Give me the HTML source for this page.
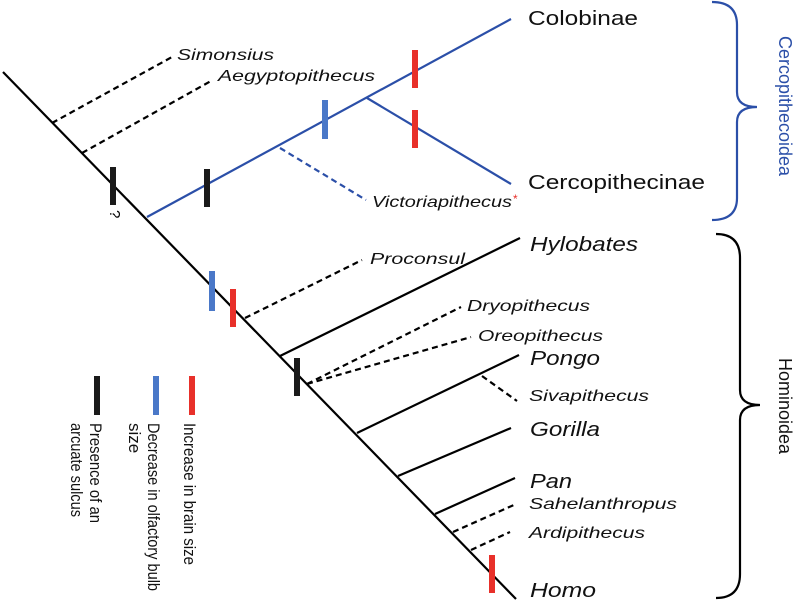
<!DOCTYPE html>
<html><head><meta charset="utf-8"><style>
html,body{margin:0;padding:0;background:#fff;}
svg{display:block;}
text{font-family:"Liberation Sans",sans-serif;}
.it{font-style:italic;}
</style></head><body>
<svg width="800" height="600" viewBox="0 0 800 600">
<g fill="none" stroke-width="2.2">
<line x1="3" y1="72" x2="516" y2="599" stroke="#000"/>
<line x1="52" y1="123" x2="172" y2="57" stroke="#000" stroke-dasharray="6,4"/>
<line x1="82" y1="153" x2="211" y2="81" stroke="#000" stroke-dasharray="6,4"/>
<line x1="147" y1="217" x2="511" y2="19" stroke="#2b4fa8"/>
<line x1="367" y1="98" x2="511" y2="184" stroke="#2b4fa8"/>
<line x1="280" y1="148" x2="366" y2="200" stroke="#2b4fa8" stroke-dasharray="6,4"/>
<line x1="245" y1="318" x2="362" y2="260" stroke="#000" stroke-dasharray="6,4"/>
<line x1="280" y1="356" x2="520" y2="238" stroke="#000"/>
<line x1="307" y1="384" x2="461" y2="307" stroke="#000" stroke-dasharray="6,4"/>
<line x1="307" y1="384" x2="471" y2="337" stroke="#000" stroke-dasharray="6,4"/>
<line x1="357" y1="433" x2="519" y2="355" stroke="#000"/>
<line x1="482" y1="376" x2="517" y2="401" stroke="#000" stroke-dasharray="6,4"/>
<line x1="398" y1="476" x2="511" y2="428" stroke="#000"/>
<line x1="435" y1="514" x2="515" y2="478" stroke="#000"/>
<line x1="453" y1="532" x2="516" y2="504" stroke="#000" stroke-dasharray="6,4"/>
<line x1="471" y1="550" x2="510" y2="532" stroke="#000" stroke-dasharray="6,4"/>
</g>
<g stroke-width="6">
<line x1="113" y1="167" x2="113" y2="205" stroke="#1a1a1a"/>
<line x1="207" y1="169" x2="207" y2="207" stroke="#1a1a1a"/>
<line x1="297" y1="358" x2="297" y2="396" stroke="#1a1a1a"/>
<line x1="325" y1="100" x2="325" y2="139" stroke="#4a78c8"/>
<line x1="212" y1="271" x2="212" y2="311" stroke="#4a78c8"/>
<line x1="415" y1="50" x2="415" y2="88" stroke="#e8302a"/>
<line x1="415" y1="110" x2="415" y2="148" stroke="#e8302a"/>
<line x1="233" y1="289" x2="233" y2="327" stroke="#e8302a"/>
<line x1="492" y1="555" x2="492" y2="593" stroke="#e8302a"/>
<line x1="97" y1="376" x2="97" y2="415" stroke="#1a1a1a"/>
<line x1="156" y1="376" x2="156" y2="415" stroke="#4a78c8"/>
<line x1="192" y1="376" x2="192" y2="415" stroke="#e8302a"/>
</g>
<text x="0" y="0" font-size="15" transform="translate(110,210) rotate(90)">?</text>
<g font-size="16" fill="#111">
<text class="it" x="177" y="60" textLength="97" lengthAdjust="spacingAndGlyphs">Simonsius</text>
<text class="it" x="218" y="81" textLength="157" lengthAdjust="spacingAndGlyphs">Aegyptopithecus</text>
<text class="it" x="372" y="207" textLength="140" lengthAdjust="spacingAndGlyphs">Victoriapithecus</text>
<text x="513" y="203" font-size="12" fill="#e8302a">*</text>
<text class="it" x="370" y="264" textLength="95" lengthAdjust="spacingAndGlyphs">Proconsul</text>
<text class="it" x="467" y="311" textLength="123" lengthAdjust="spacingAndGlyphs">Dryopithecus</text>
<text class="it" x="478" y="341" textLength="125" lengthAdjust="spacingAndGlyphs">Oreopithecus</text>
<text class="it" x="529" y="401" textLength="120" lengthAdjust="spacingAndGlyphs">Sivapithecus</text>
<text class="it" x="529" y="509" textLength="148" lengthAdjust="spacingAndGlyphs">Sahelanthropus</text>
<text class="it" x="529" y="538" textLength="116" lengthAdjust="spacingAndGlyphs">Ardipithecus</text>
</g>
<g font-size="20" fill="#111">
<text x="528" y="25" textLength="110" lengthAdjust="spacingAndGlyphs">Colobinae</text>
<text x="528" y="189" textLength="177" lengthAdjust="spacingAndGlyphs">Cercopithecinae</text>
<text class="it" x="530" y="251" textLength="108" lengthAdjust="spacingAndGlyphs">Hylobates</text>
<text class="it" x="530" y="365" textLength="70" lengthAdjust="spacingAndGlyphs">Pongo</text>
<text class="it" x="530" y="436" textLength="70" lengthAdjust="spacingAndGlyphs">Gorilla</text>
<text class="it" x="530" y="488" textLength="42" lengthAdjust="spacingAndGlyphs">Pan</text>
<text class="it" x="530" y="597" textLength="66" lengthAdjust="spacingAndGlyphs">Homo</text>
</g>
<path d="M712,2 Q737,2 737,25 L737,92 Q737,107 757,107 Q737,107 737,122 L737,198 Q737,220 712,220" fill="none" stroke="#2b4fa8" stroke-width="2.2"/>
<path d="M716,234 Q740,234 740,258 L740,390 Q740,405 760,405 Q740,405 740,420 L740,574 Q740,598 716,598" fill="none" stroke="#000" stroke-width="2.2"/>
<text font-size="18" fill="#2b4fa8" text-anchor="middle" transform="translate(779,106) rotate(90)">Cercopithecoidea</text>
<text font-size="18" fill="#111" text-anchor="middle" transform="translate(779,406) rotate(90)">Hominoidea</text>
<g font-size="17" fill="#111">
<text transform="translate(184,423) rotate(90)" textLength="142" lengthAdjust="spacingAndGlyphs">Increase in brain size</text>
<text transform="translate(148,423) rotate(90)"><tspan x="0" y="0" textLength="168" lengthAdjust="spacingAndGlyphs">Decrease in olfactory bulb</tspan><tspan x="0" y="19">size</tspan></text>
<text transform="translate(90,423) rotate(90)"><tspan x="0" y="0" textLength="100" lengthAdjust="spacingAndGlyphs">Presence of an</tspan><tspan x="0" y="19" textLength="94" lengthAdjust="spacingAndGlyphs">arcuate sulcus</tspan></text>
</g>
</svg>
</body></html>
